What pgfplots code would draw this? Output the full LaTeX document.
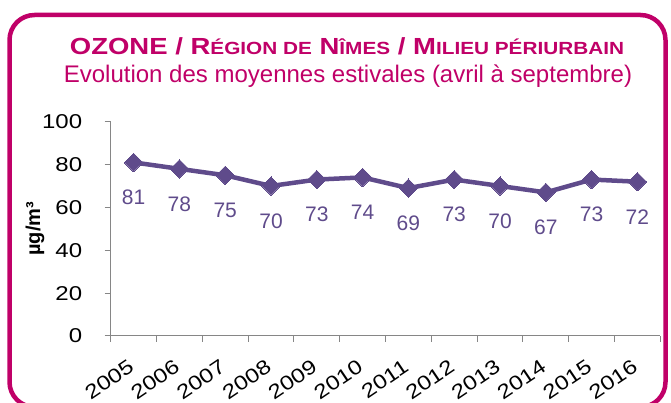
\documentclass[border=0pt]{standalone}
\usepackage{pgfplots}
\pgfplotsset{compat=1.18}
\usepackage{fontspec}
\setmainfont{Liberation Sans}
\definecolor{mag}{HTML}{C00068}
\definecolor{pur}{HTML}{5F4B8B}
\definecolor{axg}{HTML}{868686}
\newcommand{\smc}[1]{{\fontsize{17.6}{17.6}\selectfont #1}}
\newcommand{\sx}[1]{\scalebox{1.2}[1]{#1}}
\pgfplotstableread{
x year val
1 2005 81
2 2006 78
3 2007 75
4 2008 70
5 2009 73
6 2010 74
7 2011 69
8 2012 73
9 2013 70
10 2014 67
11 2015 73
12 2016 72
}\ozone
\begin{document}
\begin{tikzpicture}[x=1pt,y=1pt]
\useasboundingbox (0,0) rectangle (671,403);
\draw[mag, line width=4.5pt, rounded corners=25pt] (9.5,-4) rectangle (665.5,388);
\node[mag, anchor=base, font=\bfseries\fontsize{23.3}{23.3}\selectfont] at (347,348) {\scalebox{1.18}[1]{OZONE / R\smc{ÉGION DE} N\smc{ÎMES} / M\smc{ILIEU PÉRIURBAIN}}};
\node[mag, anchor=base, font=\fontsize{24}{24}\selectfont] at (348,320.5) {Evolution des moyennes estivales (avril à septembre)};
\begin{axis}[at={(110.7pt,67pt)}, anchor=south west, scale only axis,
  width=549.6pt, height=214.3pt,
  xmin=0.5, xmax=12.5, ymin=0, ymax=100, ytick={0,20,...,100},
  axis x line*=bottom, axis y line*=left,
  axis line style={axg, line width=1pt, -},
  xtick={1,...,12},
  xticklabels={\sx{2005},\sx{2006},\sx{2007},\sx{2008},\sx{2009},\sx{2010},\sx{2011},\sx{2012},\sx{2013},\sx{2014},\sx{2015},\sx{2016}},
  yticklabel={\sx{\pgfmathprintnumber{\tick}}},
  minor xtick={0.5,1.5,...,12.5},
  major x tick style={draw=none},
  minor x tick style={axg, line width=1pt},
  major y tick style={axg, line width=1pt},
  tick align=outside, major tick length=6pt, minor tick length=6pt,
  /pgf/number format/assume math mode=true,
  tick label style={font=\fontsize{20}{20}\selectfont, black},
  y tick label style={xshift=-19pt},
  x tick label style={rotate=34, anchor=north east, xshift=-11pt, yshift=-7pt},
  ylabel={\bfseries µg/m³},
  ylabel style={at={(rel axis cs:-0.1377,0.5)}, anchor=center, font=\fontsize{20}{20}\selectfont},
  clip=false,
  nodes near coords,
  every node near coord/.append style={pur, anchor=center, yshift=-35pt, font=\fontsize{21}{21}\selectfont},
]
\addplot[pur, line width=4.5pt, mark=square*, mark size=6.5pt, mark options={rotate=45, fill=pur, line width=0pt}] table[x=x, y=val] {\ozone};
\end{axis}
\end{tikzpicture}
\end{document}
